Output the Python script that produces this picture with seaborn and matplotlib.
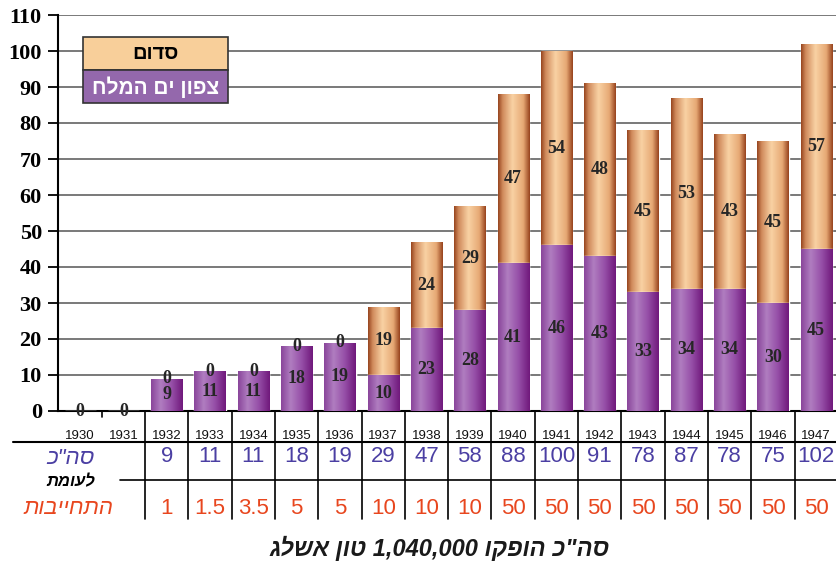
import numpy as np
import matplotlib
matplotlib.use("Agg")
import matplotlib.pyplot as plt
import matplotlib.transforms as mtransforms
from matplotlib.colors import LinearSegmentedColormap
from matplotlib.patches import Rectangle
import seaborn as sns

# data
years = [str(y) for y in range(1930, 1948)]
north_dead_sea = [0, 0, 9, 11, 11, 18, 19, 10, 23, 28, 41, 46, 43, 33, 34, 34, 30, 45]
sodom = [0, 0, 0, 0, 0, 0, 0, 19, 24, 29, 47, 54, 48, 45, 53, 43, 45, 57]
totals_row = ["", "", "9", "11", "11", "18", "19", "29", "47", "58", "88", "100",
              "91", "78", "87", "78", "75", "102"]
commitment_row = ["", "", "1", "1.5", "3.5", "5", "5", "10", "10", "10", "50", "50",
                  "50", "50", "50", "50", "50", "50"]

# Hebrew strings stored in visual (left-to-right) order
label_sodom = "םודס"
label_north = "חלמה םי ןופצ"
label_total = 'כ"הס'
label_vs = "תמועל"
label_commit = "תובייחתה"
caption = 'גלשא ןוט 1,040,000 וקפוה כ"הס'

BLUE = "#4B3FA3"
RED = "#E8461E"

sns.set_theme(style="white")
plt.rcParams["font.family"] = ["Liberation Sans", "DejaVu Sans"]

W, H = 837, 561
fig = plt.figure(figsize=(W / 100, H / 100), dpi=100)


def fx(px):
    return px / W


def fy(py):
    return 1 - py / H


ax = fig.add_axes([fx(58.5), fy(411), 18 * 43.3 / W, (411 - 15) / H])

stack_top = [a + b for a, b in zip(north_dead_sea, sodom)]
sns.barplot(x=years, y=stack_top, color="#F4C08C", saturation=1, width=0.72,
            ax=ax, zorder=2)
sns.barplot(x=years, y=north_dead_sea, color="#9B5AAE", saturation=1, width=0.72,
            ax=ax, zorder=3)

# cylinder-like shading inside each bar
n = len(years)
orange_cmap = LinearSegmentedColormap.from_list(
    "o", [(0, "#984620"), (0.14, "#D08A5C"), (0.45, "#F9D2A4"), (0.8, "#E6A874"), (1, "#98441E")])
purple_cmap = LinearSegmentedColormap.from_list(
    "p", [(0, "#8A469B"), (0.3, "#B07DC0"), (0.65, "#964FA8"), (1, "#70197C")])
grad = np.linspace(0, 1, 64).reshape(1, -1)
for i, p in enumerate(ax.patches):
    x0, y0 = p.get_x(), p.get_y()
    w, h = p.get_width(), p.get_height()
    if h <= 0:
        continue
    cmap = orange_cmap if i < n else purple_cmap
    im = ax.imshow(grad, extent=[x0, x0 + w, y0, y0 + h], aspect="auto",
                   cmap=cmap, zorder=p.get_zorder() + 0.1, interpolation="bilinear")
    im.set_clip_path(p)

ax.set_xlim(-0.5, n - 0.5)
ax.set_ylim(0, 110)
ax.set_yticks(range(0, 111, 10))
ax.yaxis.grid(True, color="#6E6E6E", linewidth=1.3)
ax.set_axisbelow(True)
ax.set_xticks([])
ax.set_xlabel("")
ax.set_ylabel("")
for s in ["top", "right"]:
    ax.spines[s].set_visible(False)
ax.spines["left"].set_color("black")
ax.spines["left"].set_linewidth(1.5)
ax.spines["bottom"].set_color("black")
ax.spines["bottom"].set_linewidth(1.5)
ax.tick_params(axis="y", left=True, length=7, width=1.3, color="black", pad=5)
for t in ax.get_yticklabels():
    t.set_fontfamily("Liberation Serif")
    t.set_fontweight("bold")
    t.set_fontsize(16)
    t.set_color("black")

# segment labels
for i in range(n):
    b, s = north_dead_sea[i], sodom[i]
    if i >= 2:
        ax.text(i, b / 2, str(b), ha="center", va="center", fontsize=13,
                fontweight="bold", family="Liberation Serif", zorder=6)
    ax.text(i, b + s / 2, str(s), ha="center", va="center", fontsize=13,
            fontweight="bold", family="Liberation Serif", zorder=6)

# table below the axis
tr = mtransforms.blended_transform_factory(ax.transData, fig.transFigure)
for i in range(n):
    ax.text(i, fy(436), years[i], transform=tr, ha="center", va="center",
            fontsize=9.5, color="#111111", clip_on=False)
    ax.text(i, fy(457), totals_row[i], transform=tr, ha="center", va="center",
            fontsize=16, color=BLUE, clip_on=False)
    ax.text(i, fy(509), commitment_row[i], transform=tr, ha="center", va="center",
            fontsize=16, color=RED, clip_on=False)

for k in range(n - 1):
    xb = k + 0.5
    y_end = fy(519) if k >= 1 else fy(417)
    ax.plot([xb, xb], [fy(411), y_end], transform=tr, color="black",
            linewidth=1.2, clip_on=False)

fig.add_artist(plt.Line2D([fx(13), 1], [fy(442), fy(442)], color="black", linewidth=1.5))
fig.add_artist(plt.Line2D([fx(120), 1], [fy(480), fy(480)], color="black", linewidth=1.2))

fig.text(fx(95), fy(458), label_total, ha="right", va="center", fontsize=16,
         style="italic", color=BLUE)
fig.text(fx(95), fy(482), label_vs, ha="right", va="center", fontsize=12,
         style="italic", fontweight="bold", color="black")
fig.text(fx(113), fy(508), label_commit, ha="right", va="center", fontsize=16,
         style="italic", color=RED)
fig.text(fx(440), fy(548), caption, ha="center", va="center", fontsize=17,
         style="italic", fontweight="bold", color="#1A1A1A")

# legend box
fig.add_artist(Rectangle((fx(83), fy(70)), fx(228) - fx(83), fy(37) - fy(70),
                         transform=fig.transFigure, facecolor="#F8CF9A",
                         edgecolor="#333333", linewidth=1.2, zorder=10))
fig.add_artist(Rectangle((fx(83), fy(103)), fx(228) - fx(83), fy(70) - fy(103),
                         transform=fig.transFigure, facecolor="#9468AC",
                         edgecolor="#333333", linewidth=1.2, zorder=10))
fig.text(fx(155.5), fy(54), label_sodom, ha="center", va="center", fontsize=14.5,
         fontweight="bold", color="black", zorder=11)
fig.text(fx(155.5), fy(87), label_north, ha="center", va="center", fontsize=15,
         fontweight="bold", color="white", zorder=11)

fig.savefig("out.png", dpi=100)
